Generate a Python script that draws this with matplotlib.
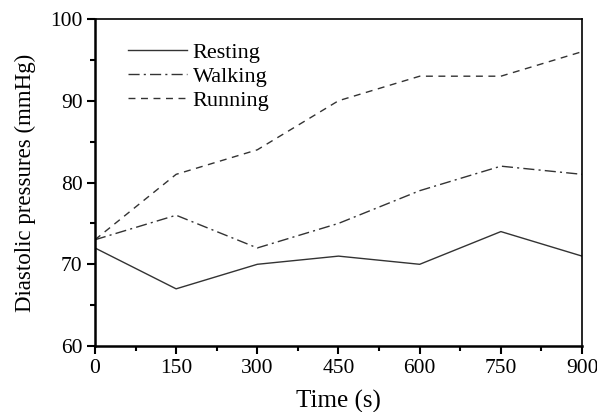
import numpy as np
import matplotlib.pyplot as plt
from matplotlib.ticker import MultipleLocator

plt.rcParams['font.family'] = ['Liberation Serif', 'DejaVu Serif']

time_s = [0, 150, 300, 450, 600, 750, 900]
resting = [72, 67, 70, 71, 70, 74, 71]
walking = [73, 76, 72, 75, 79, 82, 81]
running = [73, 81, 84, 90, 93, 93, 96]

fig = plt.figure(figsize=(5.97, 4.12), dpi=100)
ax = fig.add_axes([0.159, 0.160, 0.816, 0.794])

line_color = '#333333'
ax.plot(time_s, resting, '-', color=line_color, lw=1.0, label='Resting')
ax.plot(time_s, walking, color=line_color, lw=1.0, linestyle=(0, (8, 3, 1.5, 3)), label='Walking')
ax.plot(time_s, running, color=line_color, lw=1.0, linestyle=(0, (5, 4)), label='Running')

ax.set_xlim(0, 900)
ax.set_ylim(60, 100)
ax.xaxis.set_major_locator(MultipleLocator(150))
ax.xaxis.set_minor_locator(MultipleLocator(75))
ax.yaxis.set_major_locator(MultipleLocator(10))
ax.yaxis.set_minor_locator(MultipleLocator(5))
ax.tick_params(which='both', direction='out', width=1.5, labelsize=15.5)
ax.tick_params(which='major', length=6, pad=3)
ax.tick_params(which='minor', length=3.5)
for side in ['left', 'bottom']:
    ax.spines[side].set_linewidth(1.8)
for side in ['top', 'right']:
    ax.spines[side].set_linewidth(1.2)

ax.set_xlabel('Time (s)', fontsize=18, labelpad=9)
ax.set_ylabel('Diastolic pressures (mmHg)', fontsize=16.5, labelpad=10)

ax.legend(loc='upper left', frameon=False, fontsize=16, handlelength=2.65,
          handletextpad=0.25, labelspacing=0.15, bbox_to_anchor=(0.027, 0.99))

fig.savefig('out.png', dpi=100)
